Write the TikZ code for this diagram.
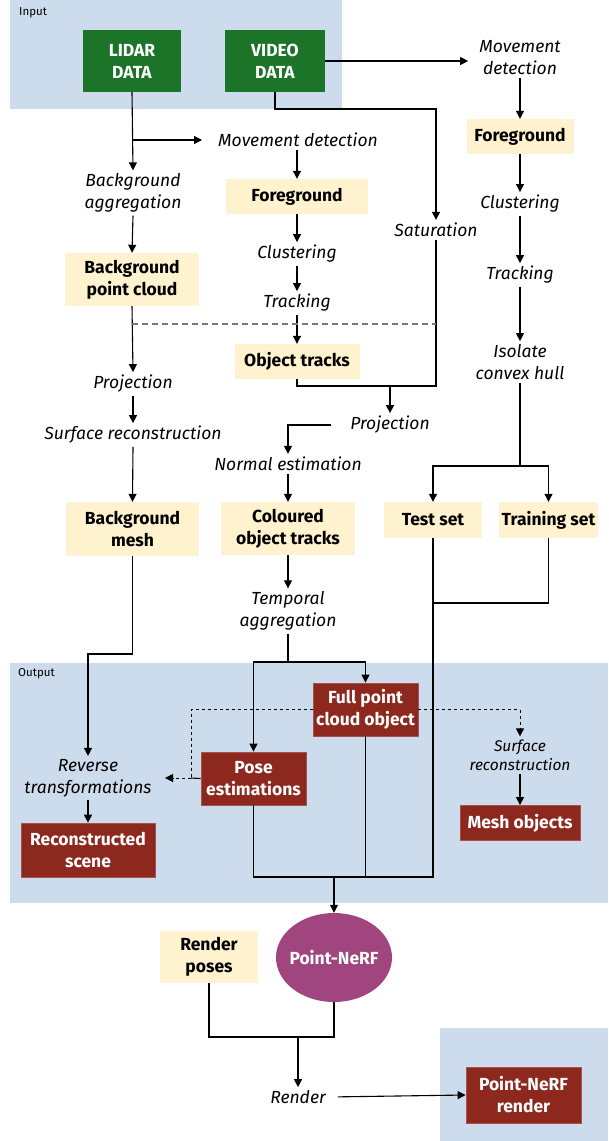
\documentclass[tikz,border=0pt]{standalone}
\usepackage{fontspec}
\setmainfont{Fira Sans}
\usetikzlibrary{arrows.meta,shapes.geometric,calc}
\definecolor{panel}{RGB}{205,220,236}
\definecolor{cream}{RGB}{255,243,207}
\definecolor{dgreen}{RGB}{27,116,39}
\definecolor{dred}{RGB}{140,40,30}
\definecolor{dpurple}{RGB}{160,69,126}
\definecolor{lgray}{RGB}{120,120,120}
\tikzset{
  arr/.style={-{Triangle[length=8pt,width=8pt]}},
  conn/.style={line width=1.1pt,draw=black},
  dsh/.style={dash pattern=on 3pt off 3pt},
  bfnt/.style={font=\fontsize{17.5}{22}\selectfont\bfseries},
  ybox/.style={bfnt,fill=cream,align=center,inner sep=0pt},
  gbox/.style={bfnt,fill=dgreen,text=white,align=center,inner sep=0pt},
  rbox/.style={bfnt,fill=dred,draw=dred!80!white,line width=0.8pt,text=white,align=center,inner sep=0pt},
  lbl/.style={font=\fontsize{17.5}{22}\selectfont\itshape,align=center,inner xsep=2pt,inner ysep=3pt},
  slbl/.style={font=\fontsize{15.5}{19}\selectfont\itshape,align=center,inner xsep=2pt,inner ysep=3pt},
  plbl/.style={font=\fontsize{11.5}{13}\selectfont,anchor=west,inner sep=0pt}
}
\begin{document}
\begin{tikzpicture}[x=1pt,y=-1pt]
\useasboundingbox (0,0) rectangle (608,1141);
% panels
\fill[panel] (10,0) rectangle (342,109);
\fill[panel] (10,663) rectangle (608,903);
\fill[panel] (440,1028) rectangle (608,1141);
\node[plbl] (inlbl) at (19,13) {Input};
\node[plbl] (outlbl) at (18,674) {Output};
% nodes
\node[gbox,minimum width=98,minimum height=62] (lidar) at (132,61) {LIDAR\\DATA};
\node[gbox,minimum width=100,minimum height=62] (video) at (275,61) {VIDEO\\DATA};
\node[lbl] (md1) at (298,140) {Movement detection};
\node[lbl] (md2) at (520,58) {Movement\\detection};
\node[lbl] (bagg) at (133,193) {Background\\aggregation};
\node[ybox,minimum width=142,minimum height=35] (fg1) at (297,196.5) {Foreground};
\node[ybox,minimum width=107,minimum height=35] (fg2) at (520,136.5) {Foreground};
\node[lbl] (sat) at (436,230) {Saturation};
\node[lbl] (cl1) at (297,254) {Clustering};
\node[lbl] (cl2) at (520,204) {Clustering};
\node[lbl] (tr1) at (297,303) {Tracking};
\node[lbl] (tr2) at (520,275) {Tracking};
\node[ybox,minimum width=134,minimum height=53] (bpc) at (132,279.5) {Background\\point cloud};
\node[ybox,minimum width=125,minimum height=35] (ot) at (297,361.5) {Object tracks};
\node[lbl] (ich) at (520,362) {Isolate\\convex hull};
\node[lbl] (proj1) at (133,384) {Projection};
\node[lbl] (proj2) at (390,425) {Projection};
\node[lbl] (surf1) at (133,435) {Surface reconstruction};
\node[lbl] (ne) at (288,464) {Normal estimation};
\node[ybox,minimum width=133,minimum height=54] (bm) at (132.5,529) {Background\\mesh};
\node[ybox,minimum width=134,minimum height=53] (cot) at (288,528.5) {Coloured\\object tracks};
\node[ybox,minimum width=98,minimum height=36] (test) at (433,520) {Test set};
\node[ybox,minimum width=99,minimum height=36] (train) at (548.5,520) {Training set};
\node[lbl] (tagg) at (288,611) {Temporal\\aggregation};
\node[rbox,minimum width=105,minimum height=53] (fpc) at (365.5,709.5) {Full point\\cloud object};
\node[rbox,minimum width=105,minimum height=53] (pose) at (253.5,778.5) {Pose\\estimations};
\node[lbl] (rev) at (88,778) {Reverse\\transformations};
\node[rbox,minimum width=134,minimum height=54] (recon) at (88,850) {Reconstructed\\scene};
\node[slbl] (surf2) at (520,755) {Surface\\reconstruction};
\node[rbox,minimum width=120,minimum height=35] (mesh) at (520,823) {Mesh objects};
\node[ellipse,bfnt,fill=dpurple,text=white,minimum width=116,minimum height=89,inner sep=-14pt] (nerf) at (334,957.5) {Point-NeRF};
\node[ybox,minimum width=98,minimum height=52] (rp) at (209,957) {Render\\poses};
\node[lbl] (render) at (298,1097) {Render};
\node[rbox,minimum width=115,minimum height=56] (pnr) at (523.5,1095) {Point-NeRF\\render};
% helper coordinates
\coordinate (k1) at (0,654);
\coordinate (k2) at (0,386);
\coordinate (k3) at (0,324);
\coordinate (k4) at (0,662);
\coordinate (k5) at (0,466);
\coordinate (k6) at (0,603);
\coordinate (k7) at (0,877);
\coordinate (k8) at (0,1037);
\coordinate (k9) at (0,109);
\coordinate (dj) at (191,778);
% connectors
\draw[conn,arr] (lidar.south) -- (bagg.north);
\draw[conn,arr,shorten >=14pt] (lidar.south |- md1) -- (md1.west);
\draw[conn,arr] (bagg.south) -- (bpc.north);
\draw[conn,arr] (bpc.south) -- (proj1.north);
\draw[conn,arr] (proj1.south) -- (surf1.north);
\draw[conn,arr] (surf1.south) -- (bm.north);
\draw[conn,arr] (bm.south) -- (bm.south |- k1) -| (rev.north);
\draw[conn,arr] (rev.south) -- (recon.north);
\draw[conn,arr] (fg1.north |- md1.south) -- (fg1.north);
\draw[conn,arr] (fg1.south) -- (cl1.north);
\draw[conn,arr] (cl1.south) -- (tr1.north);
\draw[conn,arr] (tr1.south) -- (ot.north);
\draw[conn,arr,shorten >=9pt] (video.east) -- (md2.west |- video.east);
\draw[conn,arr] (md2.south) -- (fg2.north);
\draw[conn,arr] (fg2.south) -- (cl2.north);
\draw[conn,arr] (cl2.south) -- (tr2.north);
\draw[conn,arr] (tr2.south) -- (ich.north);
\draw[conn,arr] (video.south) -- (video.south |- k9) -| (sat.north);
\draw[conn] (sat.south) |- (ot.south |- k2) -- (ot.south);
\draw[conn,arr] (proj2.north |- k2) -- (proj2.north);
\draw[line width=1.1pt,draw=lgray,dash pattern=on 6pt off 4pt] (bpc.south |- k3) -- (sat.south |- k3);
\draw[conn,arr,shorten <=17pt] (proj2.west) -| (ne.north);
\draw[conn,arr] (ne.south) -- (cot.north);
\draw[conn,arr] (cot.south) -- (tagg.north);
\draw[conn,arr] (tagg.south) -- (tagg.south |- k4) -| (pose.north);
\draw[conn,arr] (tagg.south |- k4) -| (fpc.north);
\draw[conn,arr] (ich.south) -- (ich.south |- k5) -| (test.north);
\draw[conn,arr] (ich.south |- k5) -| (train.north);
\draw[conn] (train.south) |- (test.south |- k6);
\draw[conn] (test.south) -- (test.south |- k7) -- (pose.south |- k7) -- (pose.south);
\draw[conn] (fpc.south) -- (fpc.south |- k7);
\draw[conn,arr] (nerf.north |- k7) -- (nerf.north);
\draw[conn,dsh,line width=1pt] (fpc.west) -| (dj);
\draw[conn] (pose.west) -- (dj);
\draw[conn,dsh,line width=1pt,arr] (dj) -- (165,778);
\draw[conn,dsh,line width=1pt,arr] (fpc.east) -| (surf2.north);
\draw[conn,arr] (surf2.south) -- (mesh.north);
\draw[conn] (rp.south) |- (nerf.south |- k8) -- (nerf.south);
\draw[conn,arr] (render.north |- k8) -- (render.north);
\draw[conn,arr,shorten <=10pt] (render.east) -- (pnr.west);
\end{tikzpicture}
\end{document}
